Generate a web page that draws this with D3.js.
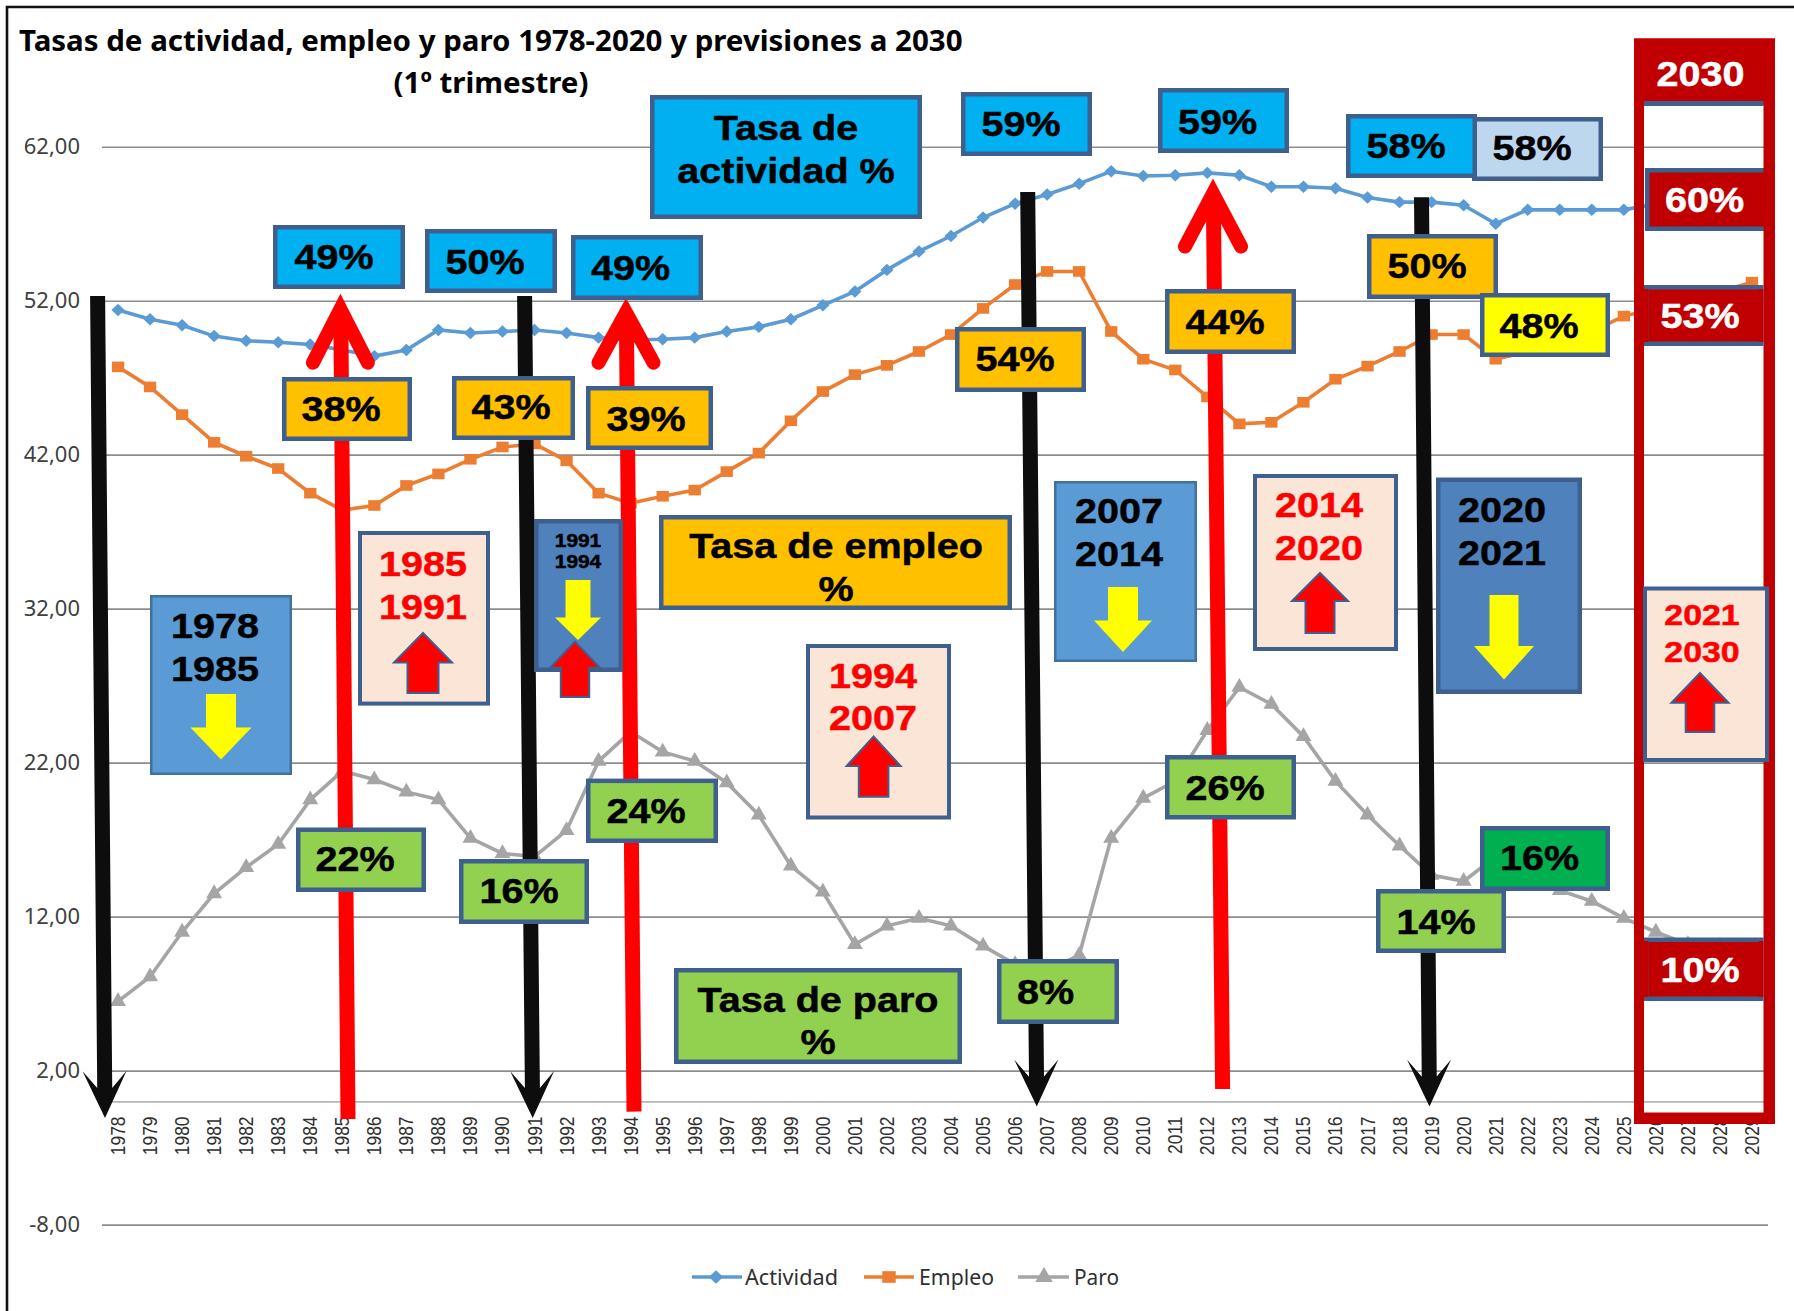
<!DOCTYPE html>
<html><head><meta charset="utf-8">
<script src="https://cdn.jsdelivr.net/npm/d3@7/dist/d3.min.js"></script>
<style>html,body{margin:0;padding:0;background:#fff}svg{display:block}</style>
</head><body><div id="chart"></div>
<script>
const years = d3.range(1978, 2030).map(String);
const actividad = [51.4,50.8,50.4,49.7,49.4,49.3,49.15,48.8,48.4,48.8,50.1,49.9,50.0,50.1,49.9,49.6,49.45,49.5,49.6,50.0,50.3,50.8,51.7,52.6,54.0,55.2,56.2,57.4,58.3,58.9,59.6,60.4,60.1,60.15,60.3,60.15,59.4,59.4,59.3,58.7,58.4,58.4,58.2,57.0,57.9,57.9,57.9,57.9,58.3,58.8,59.3,59.8];
const empleo = [47.7,46.4,44.6,42.8,41.9,41.1,39.5,38.4,38.7,40.0,40.75,41.7,42.5,42.7,41.6,39.5,38.85,39.3,39.7,40.9,42.1,44.2,46.1,47.2,47.8,48.7,49.8,51.5,53.05,53.9,53.9,50.0,48.2,47.5,45.75,44.0,44.1,45.4,46.9,47.75,48.7,49.8,49.8,48.2,48.7,49.3,50.0,51.0,51.5,52.0,52.6,53.2];
const paro = [6.5,8.1,11.0,13.5,15.2,16.7,19.6,21.45,20.9,20.1,19.6,17.1,16.1,15.9,17.6,22.1,24.0,22.7,22.1,20.7,18.6,15.3,13.6,10.2,11.4,11.9,11.4,10.1,8.9,8.5,9.5,17.1,19.7,20.8,24.1,26.9,25.8,23.7,20.8,18.6,16.6,14.7,14.3,15.9,14.8,13.7,13.0,11.9,11.0,10.2,10.1,10.0];
const yTicks = [-8,2,12,22,32,42,52,62];
const seriesNames = ["Actividad","Empleo","Paro"];
const seriesColors = ["#5B9BD5","#ED7D31","#A5A5A5"];
const titleLines = ["Tasas de actividad, empleo y paro 1978-2020 y previsiones a 2030","(1º trimestre)"];

const W = 1794, H = 1311;
const svg = d3.select("#chart").append("svg").attr("width",W).attr("height",H).attr("viewBox",`0 0 ${W} ${H}`);
svg.append("rect").attr("width",W).attr("height",H).attr("fill","#fff");

const x = d3.scaleBand().domain(years).range([102,1768]);
const y = d3.scaleLinear().domain([-8,62]).range([1224.6,146.7]);
const cx = d => x(d)+x.bandwidth()/2;

svg.append("path").attr("d",`M7 1311V7H${W}`).attr("fill","none").attr("stroke","#111").attr("stroke-width",2.6);

const yAxis = d3.axisLeft(y).tickValues(yTicks).tickSize(1768-102).tickPadding(22)
  .tickFormat(d => d3.format(".2f")(d).replace(".",",").replace("\u2212","-"));
const gy = svg.append("g").attr("transform","translate(1768,0)").call(yAxis);
gy.select(".domain").remove();
gy.selectAll("line").attr("stroke","#8c8c8c").attr("stroke-width",1.6);
gy.selectAll("text").attr("font-family","'Noto Sans'").attr("font-size",22).attr("fill","#404040").attr("x",-1688);

const xAxis = d3.axisBottom(x).tickSize(0).tickPadding(15);
const gx = svg.append("g").attr("transform",`translate(0,${y(0)})`).call(xAxis);
gx.select(".domain").attr("stroke","#b5b5b5").attr("stroke-width",1.6);
gx.selectAll("text").attr("font-family","'Liberation Sans'").attr("font-size",17.5).attr("fill","#303030")
  .attr("text-anchor","end").attr("dy",0).attr("y",0).attr("x",0)
  .attr("transform","translate(7,15) rotate(-90) scale(1,1.18)");

const symbols = [d3.symbolDiamond, d3.symbolSquare, d3.symbolTriangle];
const symSize = [62,125,110];
const symScale = ["scale(1.55,0.85)","scale(1.1,0.95)","scale(1,1)"];
const line = d3.line().x((d,i)=>cx(years[i])).y(d=>y(d));
[actividad,empleo,paro].forEach((vals,k)=>{
  const g = svg.append("g");
  g.append("path").attr("d",line(vals)).attr("fill","none").attr("stroke",seriesColors[k]).attr("stroke-width",3.6);
  g.selectAll("path.m").data(vals).join("path").attr("class","m")
    .attr("transform",(d,i)=>`translate(${cx(years[i])},${y(d)}) ${symScale[k]}`)
    .attr("d",d3.symbol().type(symbols[k]).size(symSize[k])).attr("fill",seriesColors[k]);
});

function fitText(g,str,xp,base,width,family,size,weight,fill,anchor){
  const t = g.append("text").text(str).attr("font-family",family).attr("font-size",size).attr("font-weight",weight).attr("fill",fill).attr("text-anchor",anchor);
  const len = t.node().getComputedTextLength();
  t.attr("transform",`translate(${xp},${base}) scale(${width/len},1)`);
  return t;
}

const legend = [[692,742,716,745,93],[864,914,889,919,75],[1018,1069,1044,1074,45]];
legend.forEach((l,k)=>{
  const g = svg.append("g");
  g.append("line").attr("x1",l[0]).attr("x2",l[1]).attr("y1",1277).attr("y2",1277).attr("stroke",seriesColors[k]).attr("stroke-width",3.6);
  g.append("path").attr("transform",`translate(${l[2]},1277) ${symScale[k]}`).attr("d",d3.symbol().type(symbols[k]).size(symSize[k]*1.2)).attr("fill",seriesColors[k]);
  fitText(g,seriesNames[k],l[3],1284.5,l[4],"'Noto Sans'",22,400,"#303030","start");
});

fitText(svg,titleLines[0],19,50.5,944,"'Noto Sans'",29,700,"#000","start");
fitText(svg,titleLines[1],491,93,195,"'Noto Sans'",29,700,"#000","middle");

const blackArrows = [[97.6,296,105,1118],[524.6,296,532.7,1118],[1027.7,192,1036.8,1106.6],[1421.5,197.3,1429.5,1106.6]];
blackArrows.forEach(([x0,y0,x1,y1])=>{
  const L=Math.hypot(x1-x0,y1-y0),ux=(x1-x0)/L,uy=(y1-y0)/L,px=-uy,py=ux;
  const P=(b,s)=>[x1-ux*b+px*s,y1-uy*b+py*s];
  const pts=[[x0+px*7.5,y0+py*7.5],P(30,7.5),P(47,22),[x1,y1],P(47,-22),P(30,-7.5),[x0-px*7.5,y0-py*7.5]];
  svg.append("path").attr("d",d3.line()(pts)+"Z").attr("fill","#0d0d0d");
});

const redArrows = [[348,1119,340.4,297,27.5,362.7],[634,1111.6,626,300.5,27.5,362.7],[1222.6,1089,1213,181.5,28,246.6]];
redArrows.forEach(([x0,y0,x1,y1,w,wy])=>{
  svg.append("path").attr("d",`M${x0} ${y0}L${x1+0.4} ${y1+20}`).attr("stroke","#f00").attr("stroke-width",15).attr("fill","none");
  svg.append("path").attr("d",`M${x1-w} ${wy}L${x1} ${y1+12}L${x1+w} ${wy}`).attr("stroke","#f00").attr("stroke-width",14)
    .attr("stroke-linecap","round").attr("stroke-linejoin","miter").attr("stroke-miterlimit",8).attr("fill","none");
  svg.append("path").attr("d",`M${x1-w*0.55} ${wy-28}L${x1} ${y1+12}L${x1+w*0.55} ${wy-28}Z`).attr("fill","#f00");
});

const BLUE="#3F5F8E", CYAN="#00B0F0", GOLD="#FFC000", GREEN="#92D050", PEACH="#FBE5D6", MID="#5B9BD5", DARK="#4F81BD", CRIM="#C00000";

const boxes = [
 [650,95,922,219,CYAN,BLUE,4.5],[273,225,405,289,CYAN,BLUE,4.5],[425,229,557,293,CYAN,BLUE,4.5],[571,235,703,300,CYAN,BLUE,4.5],
 [961,92,1092,156,CYAN,BLUE,4.5],[1158,88,1289,153,CYAN,BLUE,4.5],[1472,117,1603,181,"#BDD7EE",BLUE,4.5],[1346,114,1477,178,CYAN,BLUE,4.5],
 [282,377,412,441,GOLD,BLUE,4.5],[452,376,575,440,GOLD,BLUE,4.5],[586,386,713,450,GOLD,BLUE,4.5],
 [955,327,1086,392,GOLD,BLUE,4.5],[1165,289,1296,354,GOLD,BLUE,4.5],[1367,234,1498,299,GOLD,BLUE,4.5],[1480,293,1610,357,"#FFFF00",BLUE,4.5],
 [659,515,1012,610,GOLD,BLUE,4.5],
 [150,595,292,775,MID,"#41719C",2.5],[358,531,490,705.6,PEACH,BLUE,4],[534,519,623,672,DARK,BLUE,4.5],[806,644,951,819.5,PEACH,BLUE,4],
 [1054,481,1197,662,MID,"#41719C",2.5],[1253,474,1398,651,PEACH,BLUE,4],[1436,477.5,1582,694,DARK,BLUE,4.5],
 [296,827.5,426,892,GREEN,BLUE,4.5],[459,859,589,924,GREEN,BLUE,4.5],[586,778.6,718,843,GREEN,BLUE,4.5],
 [674,968,962,1064,GREEN,BLUE,4.5],[997,959,1119,1024,GREEN,BLUE,4.5],[1165,755,1296,819.5,GREEN,BLUE,4.5],
 [1480,826,1610,891,"#00B050",BLUE,4.5],[1376,889,1506,953,GREEN,BLUE,4.5]
];
const drawBox = b => svg.append("rect").attr("x",b[0]+b[6]/2).attr("y",b[1]+b[6]/2)
  .attr("width",b[2]-b[0]-b[6]).attr("height",b[3]-b[1]-b[6]).attr("fill",b[4]).attr("stroke",b[5]).attr("stroke-width",b[6]);
boxes.forEach(drawBox);

svg.append("path").attr("fill-rule","evenodd").attr("fill",CRIM)
  .attr("d","M1634 38.5H1775V1124H1634ZM1644 100V1112.5H1763.5V100Z");

const topBoxes = [
 [1634,38.5,1775,105,CRIM,CRIM,0],[1645,168,1775,231,CRIM,BLUE,4.5],[1644,285,1763.5,346,CRIM,BLUE,4.5],
 [1644,937.5,1763.5,1001,CRIM,BLUE,4.5],[1643,586.5,1769,762,PEACH,BLUE,4]
];
topBoxes.forEach(drawBox);
svg.append("rect").attr("x",1644).attr("y",101).attr("width",119.5).attr("height",5).attr("fill",BLUE);
[[1763.5,168,11.5,63],[1644,289,4.5,53],[1759,289,4.5,53],[1644,941,4.5,56],[1759,941,4.5,56]].forEach(r=>
  svg.append("rect").attr("x",r[0]).attr("y",r[1]).attr("width",r[2]).attr("height",r[3]).attr("fill",CRIM));

const blockArrows = [
 [221,694,727.6,759.6,15,30.5,"#FFFF00","none"],
 [423,693,662.6,633,15.5,29,"#f00",BLUE],
 [578,580,617.6,640,12.5,23,"#FFFF00","none"],
 [575,697,667.7,641.6,14.2,25,"#f00",BLUE],
 [873.6,796.7,766,736.4,14.8,27,"#f00",BLUE],
 [1123,587,620.5,652,15,29,"#FFFF00","none"],
 [1320,633,601,573,14.5,28,"#f00",BLUE],
 [1504,595,646,679.5,14.5,30,"#FFFF00","none"],
 [1700,732,702.7,673,14.3,28.5,"#f00",BLUE]
];
blockArrows.forEach(([c,t,b,tip,s,h,f,st])=>{
  const pts=[[c-s,t],[c-s,b],[c-h,b],[c,tip],[c+h,b],[c+s,b],[c+s,t]];
  svg.append("path").attr("d",d3.line()(pts)+"Z").attr("fill",f).attr("stroke",st).attr("stroke-width",2);
});

const K="#000", R="#f00", Wt="#fff";
const labels = [
 ["49%",334,269,35,K],["50%",485,273.6,35,K],["49%",630.5,280,35,K],["38%",341,421,35,K],["43%",511,419,35,K],["39%",646,431,35,K],
 ["59%",1021,136,35,K],["59%",1217.5,134,35,K],["58%",1406,157.5,35,K],["58%",1532,160,35,K],["50%",1427,278,35,K],["54%",1015,371,35,K],
 ["44%",1225,334,35,K],["48%",1539,338,35,K],["60%",1704.5,212,35,Wt],["53%",1700,327.5,35,Wt],["2030",1700.5,86,35,Wt],["10%",1700,982,35,Wt],
 ["8%",1045.5,1004,35,K],["26%",1225,799.7,35,K],["14%",1436,933.5,35,K],["16%",1539.6,869.6,35,K],["22%",355,870.5,35,K],["16%",519,902.5,35,K],["24%",646,823,35,K],
 ["Tasa de",786,140,35,K],["actividad %",786,183,35,K],["Tasa de empleo",836,557.5,35,K],["%",836,601,35,K],["Tasa de paro",818,1011.7,35,K],["%",818,1054,35,K],
 ["1978",215,638,35,K],["1985",215,680.8,35,K],["1985",423,576,35,R],["1991",423,619,35,R],["1991",578,547,18.5,K],["1994",578,568,18.5,K],
 ["1994",873,688,35,R],["2007",873,730,35,R],["2007",1119,523,35,K],["2014",1119,566,35,K],["2014",1319,517,35,R],["2020",1319,559.6,35,R],
 ["2020",1502,522,35,K],["2021",1502,565,35,K],["2021",1702,625,30,R],["2030",1702,662,30,R]
];
labels.forEach(([s,c,b,fs,col])=>{
  svg.append("text").text(s).attr("text-anchor","middle").attr("font-family","'Liberation Sans'").attr("font-weight",700)
    .attr("font-size",fs).attr("fill",col).attr("stroke",col).attr("stroke-width",0.5)
    .attr("transform",`translate(${c},${b}) scale(1.13,1)`);
});
</script></body></html>
